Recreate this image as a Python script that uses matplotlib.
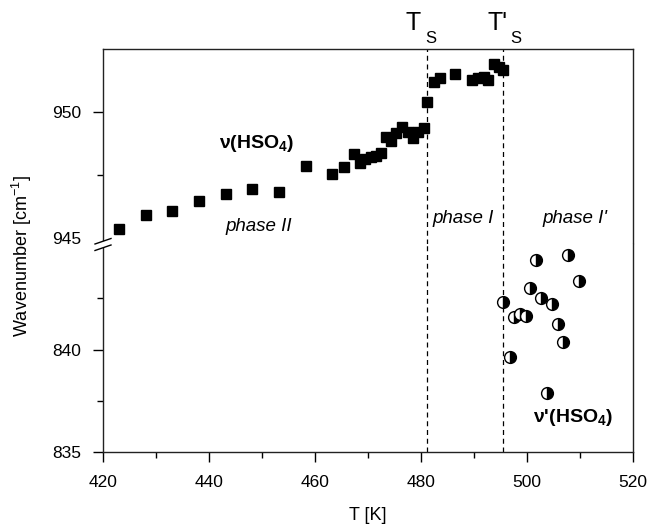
import matplotlib.pyplot as plt
from matplotlib.lines import Line2D
from matplotlib.patches import Polygon

plt.rcParams["font.family"] = ["Liberation Sans", "DejaVu Sans"]
plt.rcParams["mathtext.default"] = "regular"

# nu(HSO4) band, squares (upper part of the broken axis)
t_sq = [423.1, 428.1, 433.1, 438.1, 443.2, 448.2, 453.3, 458.3, 463.3, 465.5,
        467.4, 468.4, 469.4, 470.5, 471.5, 472.5, 473.4, 474.3, 475.3, 476.5,
        477.6, 478.5, 479.5, 480.6, 481.2, 482.5, 483.6, 486.5, 489.7, 490.8,
        491.8, 492.7, 493.8, 494.7, 495.4]
nu_sq = [945.35, 945.91, 946.06, 946.45, 946.72, 946.92, 946.80, 947.85, 947.52, 947.82,
         948.32, 947.98, 948.11, 948.20, 948.23, 948.38, 948.99, 948.83, 949.15, 949.40,
         949.19, 948.95, 949.19, 949.37, 950.37, 951.17, 951.32, 951.48, 951.26, 951.32,
         951.36, 951.26, 951.87, 951.78, 951.65]

# nu'(HSO4) band, half-filled circles (lower part)
t_ci = [501.7, 507.7, 509.8, 500.6, 495.5, 502.6, 504.7, 497.6, 498.7, 499.8,
        505.8, 506.8, 496.7, 503.8]
nu_ci = [844.37, 844.61, 843.32, 843.00, 842.32, 842.51, 842.20, 841.59, 841.75, 841.65,
         841.26, 840.37, 839.64, 837.90]

t_s = 481.1
t_s2 = 495.5

W, H = 655, 524
fig = plt.figure(figsize=(W / 100, H / 100), dpi=100)
left, right = 103, 633
top, brk, bottom = 49, 243.5, 452.3
ax_top = fig.add_axes([left / W, 1 - brk / H, (right - left) / W, (brk - top) / H])
ax_low = fig.add_axes([left / W, 1 - bottom / H, (right - left) / W, (bottom - brk) / H])

for ax in (ax_top, ax_low):
    ax.set_xlim(420, 520)
    ax.axvline(t_s, color="k", lw=0.9, ls=(0, (4, 3)))
    ax.axvline(t_s2, color="k", lw=0.9, ls=(0, (4, 3)))
    for sp in ax.spines.values():
        sp.set_linewidth(1.0)
        sp.set_color("#222222")
    ax.tick_params(which="major", direction="out", length=7, width=1, pad=9, labelsize=12.5)
    ax.tick_params(which="minor", direction="out", length=4, width=1)

ax_top.set_ylim(944.78, 952.48)
ax_low.set_ylim(835, 845.16)
ax_top.set_yticks([945, 950])
ax_top.set_yticks([947.5], minor=True)
ax_low.set_yticks([835, 840])
ax_low.set_yticks([837.5, 842.5], minor=True)
ax_low.set_xticks(range(420, 521, 20))
ax_low.set_xticks(range(430, 521, 20), minor=True)
ax_top.set_xticks([])
ax_top.set_xticks([], minor=True)
ax_top.spines["bottom"].set_visible(False)
ax_low.spines["top"].set_visible(False)
ax_top.yaxis.get_major_ticks()[0].tick1line.set_visible(False)

ax_top.plot(t_sq, nu_sq, "s", ms=7.2, color="k", clip_on=False, zorder=3)
ax_low.plot(t_ci, nu_ci, "o", ms=8.5, fillstyle="right", mfc="k", mfcalt="w",
            mec="k", mew=1.0, zorder=3)

ax_top.text(449.0, 948.75, "ν(HSO$_4$)", fontsize=14, fontweight="bold", ha="center", va="center")
ax_low.text(508.7, 836.68, "ν'(HSO$_4$)", fontsize=14, fontweight="bold", ha="center", va="center")
ax_top.text(449.3, 945.45, "phase II", fontsize=13.5, style="italic", ha="center", va="center")
ax_top.text(487.9, 945.78, "phase I", fontsize=13.5, style="italic", ha="center", va="center")
ax_top.text(509.1, 945.78, "phase I'", fontsize=13.5, style="italic", ha="center", va="center")

ax_top.text(478.5, 953.51, "T", fontsize=18, ha="center", va="center")
ax_top.text(481.8, 952.88, "S", fontsize=12, ha="center", va="center")
ax_top.text(494.4, 953.51, "T'", fontsize=18, ha="center", va="center")
ax_top.text(497.9, 952.88, "S", fontsize=12, ha="center", va="center")

fig.text(22 / W, 1 - 256 / H, "Wavenumber [cm$^{-1}$]", rotation=90, fontsize=13,
         ha="center", va="center")
fig.text((left + right) / 2 / W, 1 - 520.5 / H, "T [K]", fontsize=13, ha="center", va="baseline")

# axis break marks on the left spine
tf = fig.transFigure
def fp(x, y):
    return (x / W, 1 - y / H)

slashes = [(95, 250.5, 111, 245), (95, 244, 111, 238.5)]
mask = Polygon([fp(*slashes[0][:2]), fp(*slashes[0][2:]), fp(*slashes[1][2:]), fp(*slashes[1][:2])],
               closed=True, transform=tf, facecolor="w", edgecolor="none", zorder=5)
fig.patches.append(mask)
for (x0, y0, x1, y1) in slashes:
    a, b = fp(x0, y0), fp(x1, y1)
    fig.lines.append(Line2D([a[0], b[0]], [a[1], b[1]], transform=tf, color="k", lw=1.0, zorder=6))

fig.savefig("out.png", dpi=100)
